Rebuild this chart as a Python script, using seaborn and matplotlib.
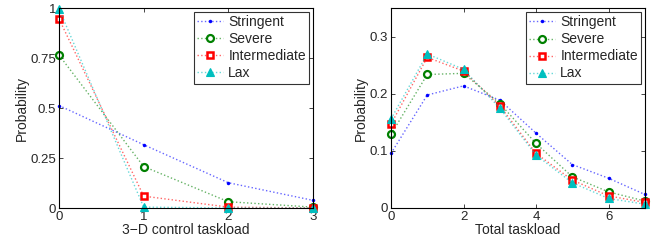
import matplotlib
matplotlib.use("Agg")
import matplotlib.pyplot as plt
import seaborn as sns
import pandas as pd

series = ["Stringent", "Severe", "Intermediate", "Lax"]
x_left = [0, 1, 2, 3]
left_stringent = [0.513, 0.317, 0.127, 0.039]
left_severe = [0.765, 0.208, 0.032, 0.005]
left_intermediate = [0.946, 0.060, 0.005, 0.001]
left_lax = [0.996, 0.005, 0.001, 0.0]

x_right = [0, 1, 2, 3, 4, 5, 6, 7]
right_stringent = [0.0955, 0.198, 0.214, 0.189, 0.131, 0.076, 0.052, 0.0235]
right_severe = [0.129, 0.234, 0.236, 0.183, 0.113, 0.0545, 0.028, 0.012]
right_intermediate = [0.147, 0.264, 0.240, 0.179, 0.0955, 0.0487, 0.021, 0.0095]
right_lax = [0.156, 0.270, 0.243, 0.175, 0.0926, 0.044, 0.0165, 0.0065]

left_ticks = [0, 0.25, 0.5, 0.75, 1]
left_ticklabels = ["0", "0.25", "0.5", "0.75", "1"]
right_yticks = [0, 0.1, 0.2, 0.3]
right_yticklabels = ["0", "0.1", "0.2", "0.3"]
right_xticks = [0, 2, 4, 6]

sns.set_style("ticks")
plt.rcParams["font.family"] = ["Liberation Sans", "DejaVu Sans"]
plt.rcParams["font.size"] = 9

styles = {
    "Stringent": dict(color=(0, 0, 1), marker="o", ms=2.5, mfc=(0, 0, 1), mew=0),
    "Severe": dict(color=(0, 0.5, 0), marker="o", ms=5, mfc="white", mew=1.6),
    "Intermediate": dict(color=(1, 0, 0), marker="s", ms=5, mfc="white", mew=1.8),
    "Lax": dict(color=(0, 0.75, 0.75), marker="^", ms=6, mfc=(0, 0.75, 0.75), mew=0.8),
}

fig = plt.figure(figsize=(6.56, 2.46), dpi=100)
ax1 = fig.add_axes([0.090, 0.154, 0.387, 0.813])
ax2 = fig.add_axes([0.596, 0.155, 0.387, 0.811])

def draw(ax, x, data):
    for name, vals in zip(series, data):
        df = pd.DataFrame({"x": x, "y": vals})
        st = styles[name]
        sns.lineplot(data=df, x="x", y="y", ax=ax, color=st["color"], linestyle=":",
                     linewidth=1.0, marker=st["marker"], markersize=st["ms"],
                     markerfacecolor=st["mfc"], markeredgecolor=st["color"],
                     markeredgewidth=st["mew"], label=name, clip_on=False)
        line = ax.lines[-1]
        line.set_color(st["color"] + (0.6,))
        line.set_markeredgecolor(st["color"])
        line.set_markerfacecolor(st["mfc"])

draw(ax1, x_left, [left_stringent, left_severe, left_intermediate, left_lax])
draw(ax2, x_right, [right_stringent, right_severe, right_intermediate, right_lax])

ax1.set_xlim(0, 3)
ax1.set_ylim(0, 1)
ax1.set_xticks(x_left)
ax1.set_yticks(left_ticks)
ax1.set_yticklabels(left_ticklabels)
ax1.set_xlabel("3\u2212D control taskload", fontsize=10)
ax1.set_ylabel("Probability", fontsize=10)

ax2.set_xlim(0, 7)
ax2.set_ylim(0, 0.35)
ax2.set_xticks(right_xticks)
ax2.set_yticks(right_yticks)
ax2.set_yticklabels(right_yticklabels)
ax2.set_xlabel("Total taskload", fontsize=10)
ax2.set_ylabel("Probability", fontsize=10)

for ax in (ax1, ax2):
    for s in ax.spines.values():
        s.set_visible(True)
        s.set_linewidth(0.8)
        s.set_color("black")
    ax.tick_params(direction="in", top=True, right=True, length=3, width=0.6,
                   labelsize=9.5, pad=2)
    ax.xaxis.labelpad = 0
    ax.yaxis.labelpad = 1
    leg = ax.legend(loc="upper right", fontsize=10, frameon=True, fancybox=False,
                    borderaxespad=0.25, handlelength=1.9, labelspacing=0.22,
                    borderpad=0.25, handletextpad=0.35)
    leg.get_frame().set_edgecolor("black")
    leg.get_frame().set_linewidth(0.8)

fig.savefig("out.png", dpi=100)
